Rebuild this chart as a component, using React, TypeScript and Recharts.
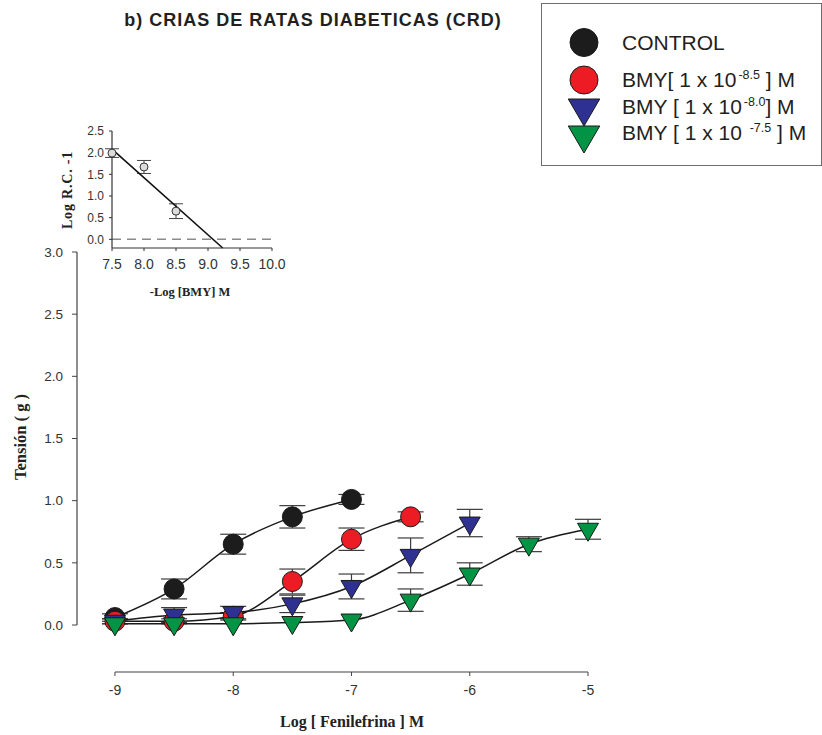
import React from "react";
import { ComposedChart, Line, XAxis, YAxis, ErrorBar, ReferenceLine } from "recharts";

// Log [Fenilefrina] M
const concentrations = [-9, -8.5, -8, -7.5, -7, -6.5, -6, -5.5, -5];

const controlMean = [0.06, 0.29, 0.65, 0.87, 1.01];
const controlSem = [0.03, 0.08, 0.08, 0.09, 0.04];
const bmy85Mean = [0.03, 0.03, 0.07, 0.35, 0.69, 0.87];
const bmy85Sem = [0.02, 0.02, 0.03, 0.1, 0.09, 0.04];
const bmy80Mean = [0.03, 0.08, 0.1, 0.17, 0.31, 0.56, 0.82];
const bmy80Sem = [0.02, 0.06, 0.05, 0.07, 0.1, 0.14, 0.11];
const bmy75Mean = [0.01, 0.01, 0.01, 0.02, 0.04, 0.2, 0.41, 0.65, 0.77];
const bmy75Sem = [0, 0, 0, 0, 0, 0.09, 0.09, 0.06, 0.08];

const xTicks = [-9, -8, -7, -6, -5];
const yTicks = [0, 0.5, 1, 1.5, 2, 2.5, 3];

// inset: Schild plot
const bmyNegLog = [7.5, 8.0, 8.5];
const logRC = [1.99, 1.67, 0.65];
const logRCSem = [0.1, 0.15, 0.17];
const regressionX = [7.5, 9.23];
const regressionY = [2.08, -0.2];
const insetXTicks = [7.5, 8, 8.5, 9, 9.5, 10];
const insetYTicks = [0, 0.5, 1, 1.5, 2, 2.5];

const legendNames = ["CONTROL", "BMY[ 1 x 10", "BMY [ 1 x 10", "BMY [ 1 x 10 "];
const legendExp = ["", "-8.5", "-8.0", "-7.5"];
const legendTail = ["", " ] M", "] M", " ] M"];

const toRows = (ys: number[], errs: number[]) =>
  ys.map((y, i) => ({ x: concentrations[i], y, err: errs[i] }));

const series = [
  { key: "control", fill: "#1c1c1c", shape: "circle", data: toRows(controlMean, controlSem) },
  { key: "bmy85", fill: "#ed1c24", shape: "circle", data: toRows(bmy85Mean, bmy85Sem) },
  { key: "bmy80", fill: "#2e3192", shape: "triangle", data: toRows(bmy80Mean, bmy80Sem) },
  { key: "bmy75", fill: "#009444", shape: "triangle", data: toRows(bmy75Mean, bmy75Sem) },
];

const insetPoints = bmyNegLog.map((x, i) => ({ x, y: logRC[i], err: logRCSem[i] }));
const insetLine = regressionX.map((x, i) => ({ x, y: regressionY[i] }));

const SANS = "'Liberation Sans', Arial, sans-serif";
const SERIF = "'Liberation Serif', 'Times New Roman', serif";

function Marker({ cx, cy, shape, fill, size }: any) {
  if (cx == null || cy == null) return null;
  if (shape === "circle") {
    return <circle cx={cx} cy={cy} r={size} fill={fill} stroke="#1a1a1a" strokeWidth={1} />;
  }
  const w = size * 2.1;
  const h = size * 1.8;
  // SigmaPlot puts the centroid of the triangle on the point
  const pts = `${cx - w / 2},${cy - h / 3} ${cx + w / 2},${cy - h / 3} ${cx},${cy + (2 * h) / 3}`;
  return <polygon points={pts} fill={fill} stroke="#1a1a1a" strokeWidth={1} strokeLinejoin="round" />;
}

function Legend() {
  const symY = [38.5, 76, 104, 131];
  const textY = [39, 75.5, 103, 129];
  return (
    <div
      style={{
        position: "absolute",
        left: 541,
        top: 3,
        width: 281,
        height: 163,
        border: "1.5px solid #6e6e6e",
        boxSizing: "border-box",
        background: "#fff",
        fontFamily: SANS,
        color: "#231f20",
      }}
    >
      <svg width={279} height={160} style={{ position: "absolute", left: 0, top: 0 }}>
        {series.map((s, i) => (
          <Marker key={s.key} cx={42} cy={symY[i]} shape={s.shape} fill={s.fill} size={s.shape === "circle" ? 14 : 15} />
        ))}
      </svg>
      {legendNames.map((name, i) => (
        <div
          key={name + i}
          style={{
            position: "absolute",
            left: 80,
            top: textY[i] - 13,
            height: 26,
            lineHeight: "26px",
            fontSize: 21,
            whiteSpace: "pre",
          }}
        >
          {name}
          {legendExp[i] && (
            <span style={{ fontSize: 12.5, position: "relative", top: -8, marginLeft: 2 }}>{legendExp[i]}</span>
          )}
          {legendTail[i]}
        </div>
      ))}
    </div>
  );
}

function Inset() {
  return (
    <div style={{ position: "absolute", left: 0, top: 0, width: 300, height: 310 }}>
      <ComposedChart width={300} height={310} margin={{ top: 131, right: 28, bottom: 32, left: 72 }}>
        <XAxis
          type="number"
          dataKey="x"
          domain={[7.5, 10]}
          ticks={insetXTicks}
          tickFormatter={(v: number) => v.toFixed(1)}
          height={30}
          tickSize={3}
          tickMargin={8}
          axisLine={{ stroke: "#333", strokeWidth: 1.2 }}
          tickLine={{ stroke: "#333" }}
          tick={{ fontSize: 14, fill: "#333", fontFamily: SANS }}
        />
        <YAxis
          type="number"
          dataKey="y"
          domain={[-0.193, 2.5]}
          ticks={insetYTicks}
          tickFormatter={(v: number) => v.toFixed(1)}
          width={40}
          tickSize={3}
          tickMargin={5}
          axisLine={{ stroke: "#333", strokeWidth: 1.2 }}
          tickLine={{ stroke: "#333" }}
          tick={{ fontSize: 12, fill: "#333", fontFamily: SANS }}
        />
        <ReferenceLine y={0} stroke="#8a8a8a" strokeWidth={1.5} strokeDasharray="9 6" />
        <Line
          data={insetPoints}
          dataKey="y"
          stroke="none"
          isAnimationActive={false}
          activeDot={false}
          dot={(p: any) => (
            <circle key={p.index} cx={p.cx} cy={p.cy} r={4} fill="#dcdcdc" stroke="#333" strokeWidth={1} />
          )}
        >
          <ErrorBar dataKey="err" direction="y" width={7} stroke="#444" strokeWidth={1} isAnimationActive={false} />
        </Line>
        <Line
          data={insetLine}
          dataKey="y"
          type="linear"
          stroke="#111"
          strokeWidth={1.6}
          dot={false}
          activeDot={false}
          isAnimationActive={false}
        />
      </ComposedChart>
      <div
        style={{
          position: "absolute",
          left: 68 - 60,
          top: 190 - 9,
          width: 120,
          height: 18,
          lineHeight: "18px",
          textAlign: "center",
          transform: "rotate(-90deg)",
          fontFamily: SERIF,
          fontWeight: "bold",
          fontSize: 14,
          letterSpacing: 0.8,
          color: "#222",
        }}
      >
        Log R.C. -1
      </div>
      <div
        style={{
          position: "absolute",
          left: 190 - 80,
          top: 292 - 9,
          width: 160,
          height: 18,
          lineHeight: "18px",
          textAlign: "center",
          fontFamily: SERIF,
          fontWeight: "bold",
          fontSize: 12.5,
          color: "#222",
        }}
      >
        -Log [BMY] M
      </div>
    </div>
  );
}

export default function App() {
  return (
    <div style={{ position: "absolute", left: 0, top: 0, width: 822, height: 735, background: "#fff", overflow: "hidden" }}>
      <ComposedChart width={822} height={735} margin={{ top: 252, right: 234, bottom: 33, left: 17 }}>
        <XAxis
          type="number"
          dataKey="x"
          domain={[-9.321, -5]}
          ticks={xTicks}
          height={30}
          axisLine={false}
          tickSize={4}
          tickMargin={9}
          tickLine={{ stroke: "#444" }}
          tick={{ fontSize: 14, fill: "#333", fontFamily: SANS }}
        />
        <YAxis
          type="number"
          dataKey="y"
          domain={[-0.378, 3]}
          ticks={yTicks}
          tickFormatter={(v: number) => v.toFixed(1)}
          width={60}
          axisLine={false}
          tickSize={5}
          tickMargin={9}
          tickLine={{ stroke: "#444" }}
          tick={{ fontSize: 13.5, fill: "#333", fontFamily: SANS }}
        />
        <ReferenceLine segment={[{ x: -9, y: -0.378 }, { x: -5, y: -0.378 }]} stroke="#444" strokeWidth={1.2} />
        <ReferenceLine segment={[{ x: -9.321, y: 0 }, { x: -9.321, y: 3 }]} stroke="#444" strokeWidth={1.2} />
        {series.map((s) => (
          <Line
            key={s.key + "-pts"}
            data={s.data}
            dataKey="y"
            stroke="none"
            isAnimationActive={false}
            activeDot={false}
            dot={(p: any) => (
              <Marker key={p.index} cx={p.cx} cy={p.cy} shape={s.shape} fill={s.fill} size={10} />
            )}
          >
            <ErrorBar dataKey="err" direction="y" width={13} stroke="#3c3c3c" strokeWidth={1.2} isAnimationActive={false} />
          </Line>
        ))}
        {series.map((s) => (
          <Line
            key={s.key + "-fit"}
            data={s.data}
            dataKey="y"
            type="monotone"
            stroke="#1a1a1a"
            strokeWidth={1.5}
            dot={false}
            activeDot={false}
            isAnimationActive={false}
          />
        ))}
      </ComposedChart>

      <Inset />
      <Legend />

      <div
        style={{
          position: "absolute",
          left: 0,
          top: 8,
          width: 626,
          textAlign: "center",
          fontFamily: SANS,
          fontWeight: "bold",
          fontSize: 18,
          letterSpacing: 1,
          lineHeight: "24px",
          color: "#231f20",
        }}
      >
        b) CRIAS DE RATAS DIABETICAS (CRD)
      </div>
      <div
        style={{
          position: "absolute",
          left: 21 - 100,
          top: 437 - 11,
          width: 200,
          height: 22,
          lineHeight: "22px",
          textAlign: "center",
          transform: "rotate(-90deg)",
          fontFamily: SERIF,
          fontWeight: "bold",
          fontSize: 16.5,
          color: "#222",
        }}
      >
        Tensión ( g )
      </div>
      <div
        style={{
          position: "absolute",
          left: 352 - 150,
          top: 722 - 11,
          width: 300,
          height: 22,
          lineHeight: "22px",
          textAlign: "center",
          fontFamily: SERIF,
          fontWeight: "bold",
          fontSize: 16,
          color: "#222",
        }}
      >
        Log [ Fenilefrina ] M
      </div>
    </div>
  );
}
